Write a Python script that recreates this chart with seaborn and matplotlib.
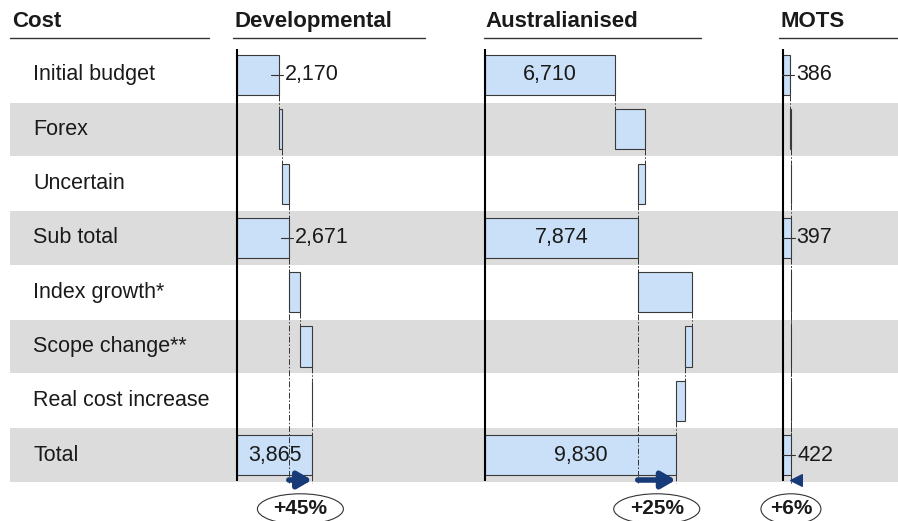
import numpy as np
import pandas as pd
import matplotlib
matplotlib.use("Agg")
import matplotlib.pyplot as plt
import seaborn as sns
from matplotlib.patches import Ellipse

# ---------------- data ----------------
rows = ["Initial budget", "Forex", "Uncertain", "Sub total",
        "Index growth*", "Scope change**", "Real cost increase", "Total"]
row_kind = ["total", "step", "step", "total", "step", "step", "step", "total"]
panels = ["Developmental", "Australianised", "MOTS"]
dev_values = [2170, 160, 341, 2671, 590, 590, 14, 3865]
aus_values = [6710, 1540, -376, 7874, 2781, -346, -479, 9830]
mots_values = [386, 5, 6, 397, 10, 8, 7, 422]
panel_values = [dev_values, aus_values, mots_values]
header_cost = "Cost"

# ---------------- style / layout ----------------
sns.set_style("white")
plt.rcParams["font.family"] = ["Liberation Sans", "DejaVu Sans"]
TXT = "#1a1a1a"
BAR = "#c9e0f8"
EDGE = "#3a3a3a"
BAND = "#dcdcdc"
NAVY = "#173a78"

W, H = 898, 521
ROW0_PX, ROW_PX = 75.0, 54.3
YTOP = -ROW0_PX / ROW_PX
YBOT = (H - ROW0_PX) / ROW_PX
PX_PER_UNIT = 0.0194
UPX = 1.0 / PX_PER_UNIT
PAD = 6
panel_x0 = [237, 485, 783]
panel_w = [230, 285, 110]
header_x = [235, 485, 781]
underline = [(233, 425), (484, 701), (779, 898)]
ell_w_px = [86, 86, 60]

fig = plt.figure(figsize=(W / 100, H / 100), dpi=100)

# background axes: bands, row labels, headers (x in pixels, y in rows)
bg = fig.add_axes([0, 0, 1, 1])
bg.set_xlim(0, W)
bg.set_ylim(YBOT, YTOP)
bg.axis("off")
for i, r in enumerate(rows):
    if i % 2 == 1:
        bg.axhspan(i - 0.49, i + 0.49, xmin=10 / W, xmax=1, color=BAND, lw=0, zorder=0)
    bg.text(33, i, r, fontsize=15.5, color=TXT, va="center", ha="left")
hdr_y = (22 - ROW0_PX) / ROW_PX
ul_y = (38 - ROW0_PX) / ROW_PX
bg.text(12, hdr_y, header_cost, fontsize=16, fontweight="bold", color=TXT, va="center")
bg.plot([10, 209], [ul_y, ul_y], color="#333333", lw=1)
for p, hx, (u0, u1) in zip(panels, header_x, underline):
    bg.text(hx, hdr_y, p, fontsize=16, fontweight="bold", color=TXT, va="center")
    bg.plot([u0, u1], [ul_y, ul_y], color="#333333", lw=1)

BAR_H = 0.74
dashdot = (0, (6, 2, 1.5, 2))
arrow_y = (480 - ROW0_PX) / ROW_PX
ell_y = (509 - ROW0_PX) / ROW_PX

for k, (vals, x0, w) in enumerate(zip(panel_values, panel_x0, panel_w)):
    ax = fig.add_axes([(x0 - PAD) / W, 0, (w + PAD) / W, 1])
    ax.patch.set_alpha(0)
    starts, widths, ends = [], [], []
    running = 0
    for v, kind in zip(vals, row_kind):
        if kind == "total":
            starts.append(0)
            widths.append(v)
            running = v
        else:
            starts.append(running)
            widths.append(v)
            running += v
        ends.append(running)
    df = pd.DataFrame({"row": rows, "width": widths, "start": starts})
    sns.barplot(data=df, y="row", x="width", order=rows, orient="y",
                left=np.array(starts), width=BAR_H, color=BAR, saturation=1,
                edgecolor=EDGE, linewidth=0.8, errorbar=None, ax=ax)
    ax.set_xlim(-PAD * UPX, w * UPX)
    ax.set_ylim(YBOT, YTOP)
    ax.axis("off")

    # axis line
    ax.plot([0, 0], [-0.48, 7.48], color="black", lw=1.5, solid_capstyle="butt")

    # connectors between consecutive bars
    for i in range(len(rows) - 1):
        ax.plot([ends[i], ends[i]], [i + BAR_H / 2, i + 1 - BAR_H / 2],
                color="#333333", lw=0.7, ls=dashdot)
    sub = vals[rows.index("Sub total")]
    tot = vals[rows.index("Total")]
    ax.plot([sub, sub], [3 + BAR_H / 2, arrow_y + 0.06], color="#333333", lw=0.7, ls=dashdot)
    ax.plot([tot, tot], [7 + BAR_H / 2, arrow_y + 0.06], color="#333333", lw=0.7, ls=dashdot)

    # value labels
    for i, kind in enumerate(row_kind):
        if kind != "total":
            continue
        v = vals[i]
        lab = f"{v:,}"
        if v * PX_PER_UNIT > 62:
            ax.text(v / 2, i, lab, fontsize=15.5, color=TXT, ha="center", va="center")
        else:
            ax.plot([v - 8 * UPX, v + 4 * UPX], [i, i], color="#333333", lw=0.8)
            ax.text(v + 6 * UPX, i, lab, fontsize=15.5, color=TXT, ha="left", va="center")

    # growth arrow
    if (tot - sub) * PX_PER_UNIT > 8:
        ax.annotate("", xy=(tot, arrow_y), xytext=(sub, arrow_y),
                    arrowprops=dict(arrowstyle="-|>,head_length=0.6,head_width=0.35",
                                    color=NAVY, lw=4, shrinkA=0, shrinkB=0,
                                    mutation_scale=14))
    else:
        ax.scatter([tot + 5 * UPX], [arrow_y], marker="<", s=70, color=NAVY, zorder=5)

    # percentage bubble
    pct = round((tot / sub - 1) * 100)
    cx = (sub + tot) / 2
    ax.add_patch(Ellipse((cx, ell_y), width=ell_w_px[k] * UPX, height=0.56,
                         facecolor="white", edgecolor="#333333", lw=0.8, clip_on=False))
    ax.text(cx, ell_y, f"+{pct}%", fontsize=15, fontweight="bold", color=TXT,
            ha="center", va="center")

fig.savefig("out.png", dpi=100)
